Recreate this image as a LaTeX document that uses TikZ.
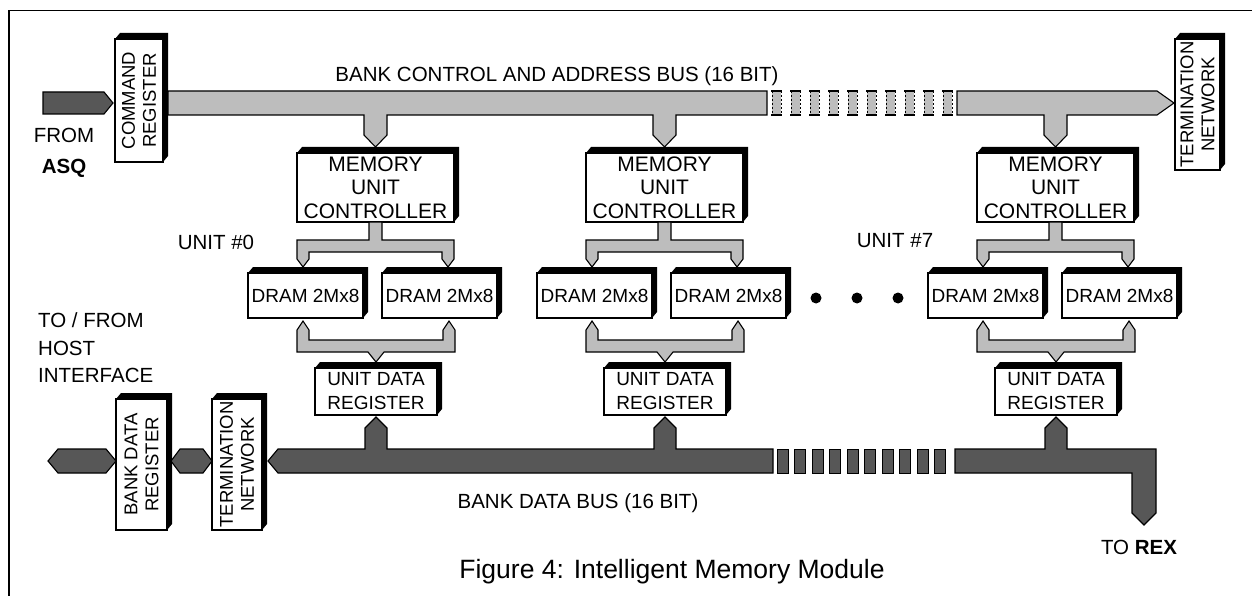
\documentclass[tikz,border=0pt]{standalone}
\usepackage{fontspec}
\setmainfont{Liberation Sans}
\usetikzlibrary{calc}
\definecolor{busL}{gray}{0.74}
\definecolor{busD}{gray}{0.34}
\newcommand\fsz[2]{\fontsize{#1}{#2}\selectfont}
\newcommand\extr[1]{\fill[black] (#1.north west) -- ++(5,-6) -- ($(#1.north east)+(5,-6)$) -- ($(#1.south east)+(5,-6)$) -- (#1.south east) -- (#1.north east) -- cycle;}
\tikzset{
  box/.style={draw=black, line width=1.1pt, fill=white, inner sep=0pt, outer sep=0pt, align=center},
  ctrlbox/.style={box, minimum width=157pt, minimum height=69pt, font={\fsz{21}{23.5}}},
  drambox/.style={box, minimum width=115pt, minimum height=45pt, font={\fsz{19}{22}}},
  regbox/.style={box, minimum width=122pt, minimum height=47pt, font={\fsz{19}{24}}},
  rottext/.style={rotate=90, align=center, inner sep=0pt, font={\fsz{18.5}{21}}},
  lbl/.style={inner sep=0pt, font={\fsz{20.5}{27.5}}},
  lightbus/.style={fill=busL, draw=black, line width=1.1pt, line join=miter},
  darkbus/.style={fill=busD, draw=black, line width=1.1pt, line join=miter},
}
\newcommand\memunit[2]{%
  \node[ctrlbox] (ctrl#1) at (#2-1.5,187.5) {MEMORY\\UNIT\\CONTROLLER};
  \extr{ctrl#1}
  \node[drambox] (dramA#1) at (#2-71.5,295.5) {DRAM 2Mx8};
  \extr{dramA#1}
  \node[drambox] (dramB#1) at (#2+62.5,295.5) {DRAM 2Mx8};
  \extr{dramB#1}
  \node[regbox] (reg#1) at (#2-1,391.5) {UNIT DATA\\REGISTER};
  \extr{reg#1}
  \filldraw[lightbus] ($(ctrl#1.south)+(-6.5,0)$) -- ($(ctrl#1.south)+(-6.5,18)$)
    -- ($(ctrl#1.south west)+(0,18)$) -- ($(ctrl#1.south west)+(0,37)$)
    -- ($(ctrl#1.south west)+(6,45)$) -- ($(ctrl#1.south west)+(12,37)$)
    -- ($(ctrl#1.south west)+(12,30)$) -- ($(ctrl#1.south east)+(-12,30)$)
    -- ($(ctrl#1.south east)+(-12,37)$) -- ($(ctrl#1.south east)+(-6,45)$)
    -- ($(ctrl#1.south east)+(0,37)$) -- ($(ctrl#1.south east)+(0,18)$)
    -- ($(ctrl#1.south)+(6.5,18)$) -- ($(ctrl#1.south)+(6.5,0)$) -- cycle;
  \filldraw[lightbus] ($(reg#1.north)+(-79,-38)$) -- ($(reg#1.north)+(-73,-47)$)
    -- ($(reg#1.north)+(-67,-38)$) -- ($(reg#1.north)+(-67,-28)$)
    -- ($(reg#1.north)+(67,-28)$) -- ($(reg#1.north)+(67,-38)$)
    -- ($(reg#1.north)+(73,-47)$) -- ($(reg#1.north)+(79,-38)$)
    -- ($(reg#1.north)+(79,-16)$) -- ($(reg#1.north)+(8,-16)$)
    -- ($(reg#1.north)+(0,-6)$) -- ($(reg#1.north)+(-8,-16)$)
    -- ($(reg#1.north)+(-79,-16)$) -- cycle;
}
\begin{document}
\begin{tikzpicture}[x=1pt, y=-1pt]
\useasboundingbox (0,0) rectangle (1252,596);
\draw[line width=1.5pt] (1252,10.5) -- (9,10.5) -- (9,596);

% registers and terminations
\node[box, minimum width=48pt, minimum height=123pt] (cmd) at (139,100.5) {};
\extr{cmd}
\node[rottext] (cmdT) at (cmd) {COMMAND\\REGISTER};
\node[box, minimum width=45pt, minimum height=131pt] (tnA) at (1197.5,104.5) {};
\extr{tnA}
\node[rottext] (tnAT) at (tnA) {TERMINATION\\NETWORK};
\node[box, minimum width=51pt, minimum height=131pt] (bdr) at (141.5,464.5) {};
\extr{bdr}
\node[rottext] (bdrT) at (bdr) {BANK DATA\\REGISTER};
\node[box, minimum width=50pt, minimum height=131pt] (tnB) at (237,464.5) {};
\extr{tnB}
\node[rottext] (tnBT) at (tnB) {TERMINATION\\NETWORK};

% memory units
\memunit{0}{377}
\memunit{1}{666}
\memunit{7}{1057}

% address bus (left part)
\filldraw[lightbus] (168,91) -- (767,91) -- (767,115)
  -- ($(ctrl1.north)+(11.5,-38)$) -- ($(ctrl1.north)+(11.5,-18)$) -- ($(ctrl1.north)+(0,-6)$)
  -- ($(ctrl1.north)+(-11.5,-18)$) -- ($(ctrl1.north)+(-11.5,-38)$)
  -- ($(ctrl0.north)+(11.5,-38)$) -- ($(ctrl0.north)+(11.5,-18)$) -- ($(ctrl0.north)+(0,-6)$)
  -- ($(ctrl0.north)+(-11.5,-18)$) -- ($(ctrl0.north)+(-11.5,-38)$)
  -- (168,115) -- cycle;
% address bus (right part)
\filldraw[lightbus] (957,91) -- (1157,91) -- ($(tnA.west |- 0,103)+(-1,0)$) -- (1157,115)
  -- ($(ctrl7.north)+(11.5,-38)$) -- ($(ctrl7.north)+(11.5,-18)$) -- ($(ctrl7.north)+(0,-6)$)
  -- ($(ctrl7.north)+(-11.5,-18)$) -- ($(ctrl7.north)+(-11.5,-38)$)
  -- (957,115) -- cycle;
\foreach \i in {0,...,9} {
  \fill[busL] (772+19*\i,91) rectangle ++(9,24);
  \draw[line width=0.5pt, dash pattern=on 2pt off 2pt] (772+19*\i,91) -- ++(0,24) (781+19*\i,91) -- ++(0,24);
  \draw[line width=1.3pt] (771+19*\i,91) -- ++(11,0) (771+19*\i,115) -- ++(11,0);
}
% from ASQ
\filldraw[darkbus] (43,92) -- (104,92) -- ($(cmd.west |- 0,103)+(-2,0)$) -- (104,114) -- (43,114) -- cycle;

% bank data bus
\filldraw[darkbus] (48,461) -- (58,449) -- (106,449) -- ($(bdr.west |- 0,461)$) -- (106,473) -- (58,473) -- cycle;
\filldraw[darkbus] (171,461) -- (180,449) -- (203,449) -- ($(tnB.west |- 0,461)$) -- (203,473) -- (180,473) -- cycle;
\filldraw[darkbus] (268,461) -- (278,449)
  -- ($(reg0.south)+(-11,34)$) -- ($(reg0.south)+(-11,13)$) -- ($(reg0.south)+(0,2)$)
  -- ($(reg0.south)+(11,13)$) -- ($(reg0.south)+(11,34)$)
  -- ($(reg1.south)+(-11,34)$) -- ($(reg1.south)+(-11,13)$) -- ($(reg1.south)+(0,2)$)
  -- ($(reg1.south)+(11,13)$) -- ($(reg1.south)+(11,34)$)
  -- (773,449) -- (773,473) -- (278,473) -- cycle;
\coordinate (rex) at (1144,525);
\filldraw[darkbus] (955,449)
  -- ($(reg7.south)+(-11,34)$) -- ($(reg7.south)+(-11,13)$) -- ($(reg7.south)+(0,2)$)
  -- ($(reg7.south)+(11,13)$) -- ($(reg7.south)+(11,34)$)
  -- (1156,449) -- (1156,513) -- (rex) -- (1132,513) -- (1132,473) -- (955,473) -- cycle;
\foreach \i in {0,...,9} {
  \filldraw[darkbus, line width=0.8pt] (777+17.5*\i,449) rectangle ++(11,24);
}

% dots
\fill (816,298) circle (5.5pt);
\fill (857,298) circle (5.5pt);
\fill (898,298) circle (5.5pt);

% labels
\node[lbl] (fromL) at (64,135) {FROM};
\node[lbl, font={\fsz{20.5}{24}\bfseries}] (asqL) at (64,168) {ASQ};
\node[lbl] (cabusL) at (557,76) {BANK CONTROL AND ADDRESS BUS (16 BIT)};
\node[lbl] (u0L) at (216,242) {UNIT \#0};
\node[lbl] (u7L) at (895,241) {UNIT \#7};
\node[lbl, align=left, anchor=west] (hostL) at (38,348) {TO / FROM\\HOST\\INTERFACE};
\node[lbl] (dbusL) at (578,503) {BANK DATA BUS (16 BIT)};
\node[lbl] (rexL) at (1139,547) {TO \textbf{REX}};
\node[lbl, font={\fsz{26.5}{30}}] (capL) at (672,572) {Figure 4: Intelligent Memory Module};
\end{tikzpicture}
\end{document}
